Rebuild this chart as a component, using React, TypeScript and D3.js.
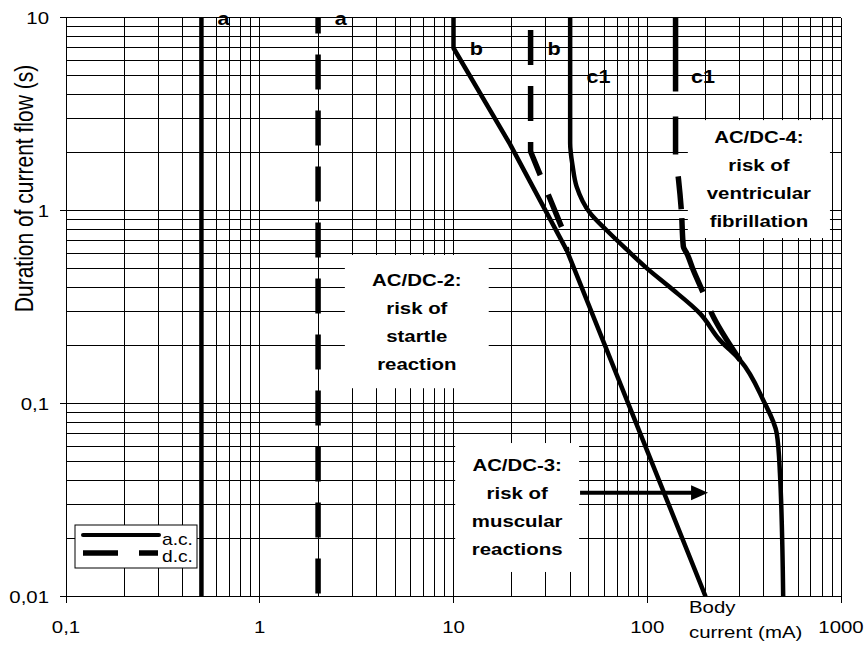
import * as d3 from 'd3';

// axis ticks
const xTicks = [0.1, 1, 10, 100, 1000];
const xTickLabels = ['0,1', '1', '10', '100', '1000'];
const yTicks = [0.01, 0.1, 1, 10];
const yTickLabels = ['0,01', '0,1', '1', '10'];

// curves: [current mA, duration s]
const acA: [number, number][] = [[0.5, 10], [0.5, 0.01]];
const dcA: [number, number][] = [[2, 10], [2, 0.01]];
const acB: [number, number][] = [[10, 10], [10, 6.95], [19.6, 2.2], [38.5, 0.62], [200, 0.01]];
const dcB: [number, number][] = [[25, 10], [25, 2.02], [36.7, 0.79], [38.5, 0.62]];
const acC1: [number, number][] = [
  [40, 10], [40, 2.24], [41.2, 1.7], [43.2, 1.33], [50.7, 0.97], [61.7, 0.79], [78, 0.63],
  [100, 0.5], [131, 0.4], [187, 0.293], [237, 0.213], [301, 0.168], [397, 0.104],
  [466, 0.07], [484, 0.0435], [503, 0.01],
];
const dcC1: [number, number][] = [
  [140, 10], [140, 1.95], [145, 1.45], [150, 1.0], [153.6, 0.65], [160, 0.6], [173, 0.49],
  [195, 0.372], [215, 0.293], [301, 0.168],
];

// curve labels
const curveLabels = [
  { text: 'a', x: 0.65, y: 9.1 },
  { text: 'a', x: 2.62, y: 9.1 },
  { text: 'b', x: 13.1, y: 6.4 },
  { text: 'b', x: 33, y: 6.4 },
  { text: 'c1', x: 56, y: 4.6 },
  { text: 'c1', x: 194, y: 4.6 },
];

// zone boxes: x0, x1 (mA), y0, y1 (s)
const zones = [
  { lines: ['AC/DC-2:', 'risk of', 'startle', 'reaction'], x0: 2.75, x1: 15.2, y0: 0.588, y1: 0.12 },
  { lines: ['AC/DC-3:', 'risk of', 'muscular', 'reactions'], x0: 10.2, x1: 44.5, y0: 0.0624, y1: 0.0134 },
  { lines: ['AC/DC-4:', 'risk of', 'ventricular', 'fibrillation'], x0: 162, x1: 877, y0: 2.94, y1: 0.72 },
];
const arrowFrom: [number, number] = [45, 0.0345];
const arrowTo: [number, number] = [206, 0.0345];

const W = 867;
const H = 646;
const FONT = '"Liberation Sans", Arial, sans-serif';
const SX = 1.2;

function T({ x, y, children, size = 17, bold = false, anchor = 'middle' }: any) {
  return (
    <text
      transform={`translate(${x},${y}) scale(${SX},1)`}
      textAnchor={anchor}
      fontFamily={FONT}
      fontSize={size}
      fontWeight={bold ? 'bold' : 'normal'}
      fill="#000"
    >
      {children}
    </text>
  );
}

export default function App() {
  const x = d3.scaleLog().domain([0.1, 1000]).range([66, 841]);
  const y = d3.scaleLog().domain([0.01, 10]).range([596.5, 17.5]);

  const xGrid: number[] = [];
  for (let d = 0.1; d < 999; d *= 10) for (let k = 1; k <= 9; k++) xGrid.push(+(d * k).toPrecision(3));
  xGrid.push(1000);
  const yGrid: number[] = [];
  for (let d = 0.01; d < 9.99; d *= 10) for (let k = 1; k <= 9; k++) yGrid.push(+(d * k).toPrecision(3));
  yGrid.push(10);

  const straight = d3.line<[number, number]>().x((d) => x(d[0])).y((d) => y(d[1]));
  const smooth = d3
    .line<[number, number]>()
    .x((d) => x(d[0]))
    .y((d) => y(d[1]))
    .curve(d3.curveMonotoneY);

  const [x0, x1] = x.range();
  const [y0, y1] = [y(10), y(0.01)];

  const solid = { fill: 'none', stroke: '#000', strokeWidth: 4.5 };
  const dashed = { fill: 'none', stroke: '#000', strokeWidth: 5.5, strokeDasharray: '35 21' };

  const ay = y(arrowFrom[1]);
  const ax0 = x(arrowFrom[0]);
  const ax1 = x(arrowTo[0]);

  return (
    <svg width={W} height={H} style={{ position: 'absolute', left: 0, top: 0 }}>
      <defs>
        <clipPath id="plot">
          <rect x={x0} y={y0} width={x1 - x0} height={y1 - y0} />
        </clipPath>
        <clipPath id="title">
          <rect x={12} y={0} width={60} height={H} />
        </clipPath>
      </defs>
      <rect width={W} height={H} fill="#fff" />

      {/* grid */}
      <g stroke="#000" strokeWidth={1} shapeRendering="crispEdges">
        {xGrid.map((v) => (
          <line key={'x' + v} x1={x(v)} x2={x(v)} y1={y0} y2={y1} />
        ))}
        {yGrid.map((v) => (
          <line key={'y' + v} x1={x0} x2={x1} y1={y(v)} y2={y(v)} />
        ))}
        {xTicks.map((v) => (
          <line key={'xt' + v} x1={x(v)} x2={x(v)} y1={y1} y2={y1 + 6} />
        ))}
        {yTicks.map((v) => (
          <line key={'yt' + v} x1={x0 - 6} x2={x0} y1={y(v)} y2={y(v)} />
        ))}
      </g>

      {/* zone boxes */}
      {zones.map((z, i) => (
        <rect
          key={'zb' + i}
          x={x(z.x0)}
          y={y(z.y0)}
          width={x(z.x1) - x(z.x0)}
          height={y(z.y1) - y(z.y0)}
          fill="#fff"
        />
      ))}

      {/* curves */}
      <g clipPath="url(#plot)">
        <path d={straight(acA)!} {...solid} />
        <path d={straight(dcA)!} {...dashed} strokeDashoffset={19} />
        <path d={straight(acB)!} {...solid} strokeLinejoin="round" />
        <path d={straight(dcB)!} {...dashed} strokeDashoffset={43.5} />
        <path d={smooth(acC1)!} {...solid} />
        <path d={smooth(dcC1)!} {...dashed} strokeDasharray="74 25 38 22 33 9 78 21 300" />
      </g>

      {/* curve labels */}
      {curveLabels.map((l, i) => (
        <T key={'cl' + i} x={x(l.x)} y={y(l.y)} size={18} bold>
          {l.text}
        </T>
      ))}

      {/* zone texts */}
      {zones.map((z, i) => {
        const cx = (x(z.x0) + x(z.x1)) / 2;
        const cy = (y(z.y0) + y(z.y1)) / 2 + 6;
        const top = cy - ((z.lines.length - 1) * 28) / 2;
        return z.lines.map((ln, j) => (
          <T key={'zt' + i + j} x={cx} y={top + j * 28} bold>
            {ln}
          </T>
        ));
      })}

      {/* arrow */}
      <line x1={ax0} x2={ax1 - 14} y1={ay} y2={ay} stroke="#000" strokeWidth={4} />
      <path d={`M${ax1},${ay} L${ax1 - 17},${ay - 7.5} L${ax1 - 17},${ay + 7.5} Z`} fill="#000" />

      {/* tick labels */}
      {xTicks.map((v, i) => (
        <T key={'xl' + v} x={x(v)} y={633}>
          {xTickLabels[i]}
        </T>
      ))}
      {yTicks.map((v, i) => (
        <T key={'yl' + v} x={49} y={y(v) + 6} anchor="end">
          {yTickLabels[i]}
        </T>
      ))}

      {/* axis titles */}
      <T x={689} y={613} anchor="start">Body</T>
      <T x={689} y={638} anchor="start">current (mA)</T>
      <g clipPath="url(#title)">
        <text
          transform={`translate(33,188.5) scale(${SX},1) rotate(-90)`}
          textAnchor="middle"
          fontFamily={FONT}
          fontSize={21}
          fill="#000"
        >
          Duration of current flow (s)
        </text>
      </g>

      {/* legend */}
      <rect x={75} y={525} width={122} height={43} fill="#fff" stroke="#000" strokeWidth={1} />
      <line x1={83} x2={159} y1={535} y2={535} stroke="#000" strokeWidth={4} strokeLinecap="round" />
      <line x1={83} x2={158} y1={553} y2={553} stroke="#000" strokeWidth={5.5} strokeDasharray="35 21" />
      <T x={162} y={545} size={16} anchor="start">a.c.</T>
      <T x={162} y={562} size={16} anchor="start">d.c.</T>
    </svg>
  );
}
